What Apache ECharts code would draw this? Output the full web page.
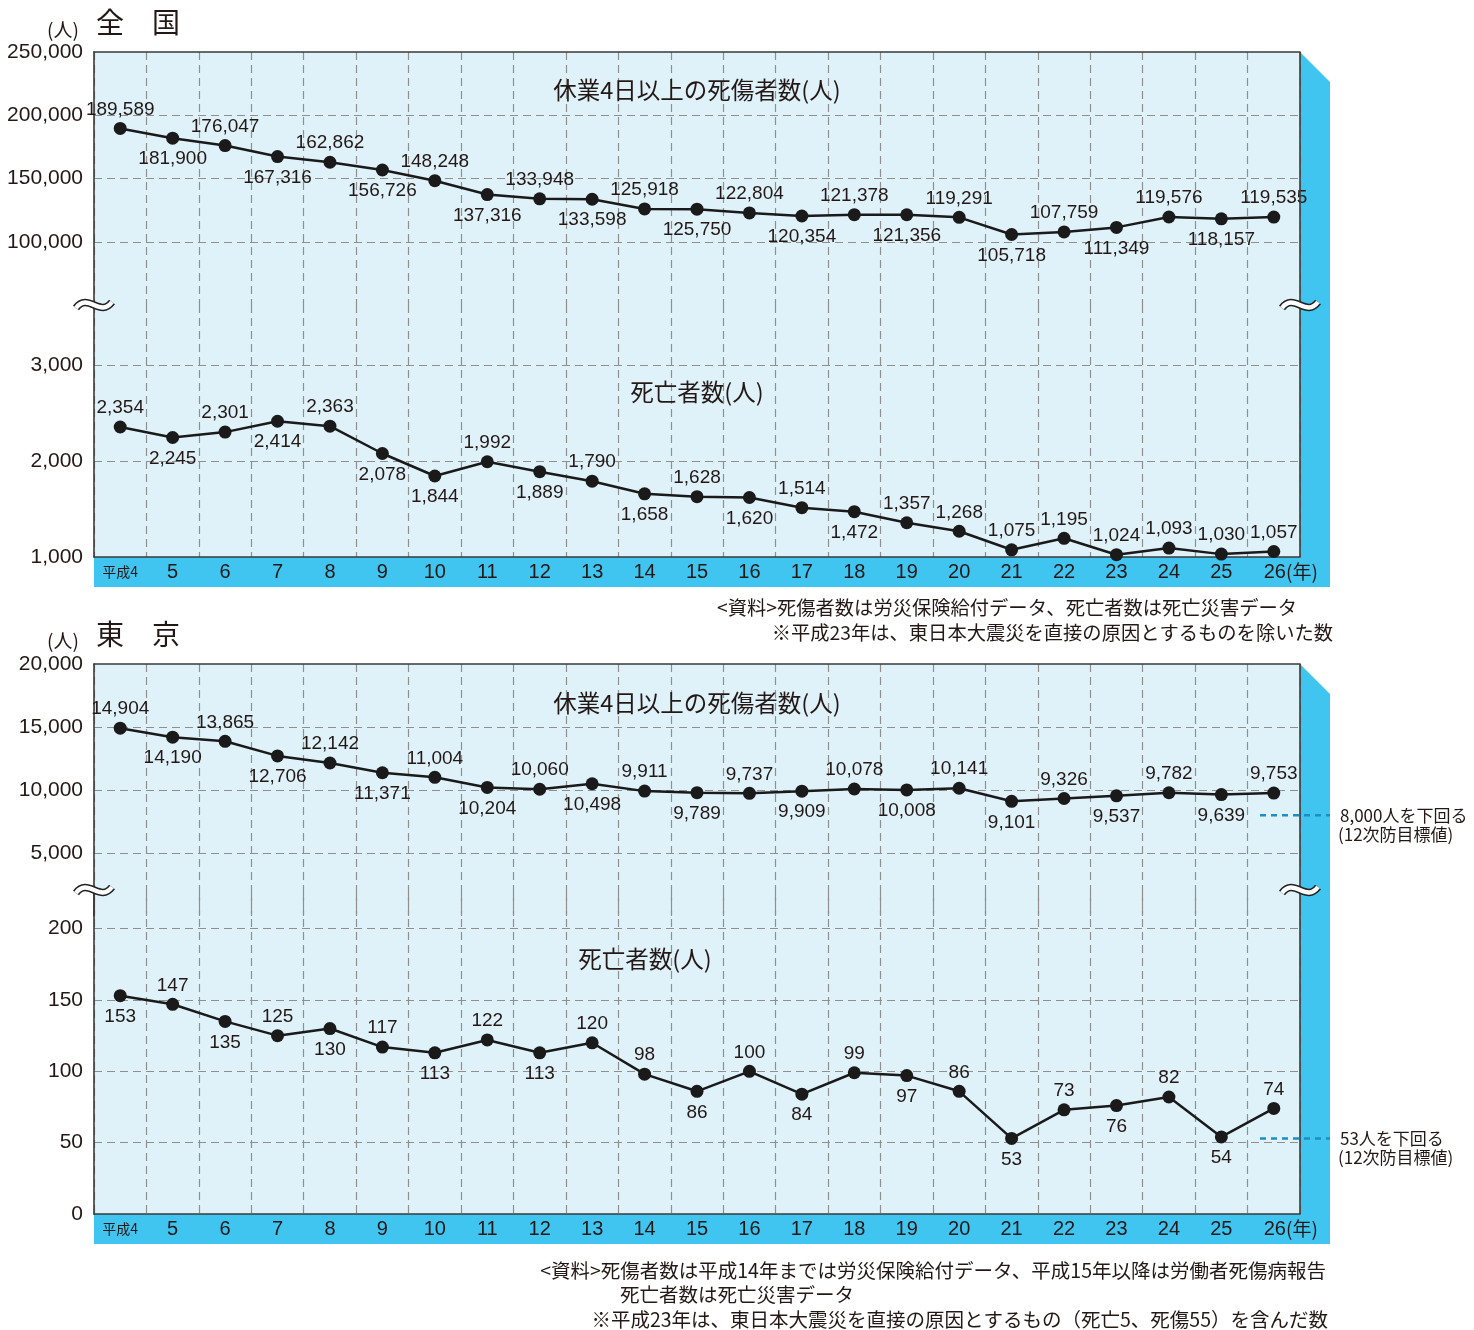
<!DOCTYPE html>
<html><head><meta charset="utf-8">
<script src="https://cdn.jsdelivr.net/npm/echarts@6/dist/echarts.min.js"></script>
<style>html,body{margin:0;padding:0;background:#fff}#c{width:1474px;height:1330px}</style>
</head><body><div id="c"></div>
<script>
// ---------- data ----------
const years = ['平成4','5','6','7','8','9','10','11','12','13','14','15','16','17','18','19','20','21','22','23','24','25','26'];
const nationalInjuries = [189589,181900,176047,167316,162862,156726,148248,137316,133948,133598,125918,125750,122804,120354,121378,121356,119291,105718,107759,111349,119576,118157,119535];
const nationalDeaths = [2354,2245,2301,2414,2363,2078,1844,1992,1889,1790,1658,1628,1620,1514,1472,1357,1268,1075,1195,1024,1093,1030,1057];
const tokyoInjuries = [14904,14190,13865,12706,12142,11371,11004,10204,10060,10498,9911,9789,9737,9909,10078,10008,10141,9101,9326,9537,9782,9639,9753];
const tokyoDeaths = [153,147,135,125,130,117,113,122,113,120,98,86,100,84,99,97,86,53,73,76,82,54,74];
const nationalInjuryTicks = [100000,150000,200000,250000];
const nationalDeathTicks = [1000,2000,3000];
const tokyoInjuryTicks = [5000,10000,15000,20000];
const tokyoDeathTicks = [0,50,100,150,200];
const tokyoInjuryTarget = 8000;
const tokyoDeathTarget = 53;

// label sides (style): t = above, b = below
const nationalInjurySide = 'tbtbtbtbtbtbtbtbtbtbtbt';
const nationalDeathSide  = 'tbtbtbbtbtbtbtbtttttttt';
const tokyoInjurySide    = 'tbtbtbtbtbtbtbtbtbtbtbt';
const tokyoDeathSide     = 'btbtbtbtbttbtbtbtbtbtbt';

// ---------- style ----------
const NUM_FONT = "'Liberation Sans', Arial, 'Noto Sans CJK JP', sans-serif";
const JP_FONT = "'Noto Sans CJK JP', sans-serif";
const TXT = '#231815';
const BG = '#dff2fa';
const BAND = '#40c4f0';
const GRIDC = '#8f8f8f';
const AXC = '#3a3a3a';
const L = 94, R = 1300;

const fmt = v => String(v).replace(/\B(?=(\d{3})+(?!\d))/g, ',');

const chart = echarts.init(document.getElementById('c'), null, {renderer: 'canvas'});

const gridDefs = [
  {top: 52, height: 253},
  {top: 305, height: 252},
  {top: 664, height: 252},
  {top: 893, height: 321}
].map(g => Object.assign({left: L, width: R - L, show: true, backgroundColor: BG, borderWidth: 0}, g));

const splitStyle = {color: GRIDC, width: 1.2, type: [8, 5]};
const axisLineStyle = {color: AXC, width: 1.6};

const xLabel = {
  show: true, interval: 0, margin: 3,
  formatter: (v, i) => i === 0 ? '{s|' + v + '}' : (i === years.length - 1 ? '{p| }{n|' + v + '}{u|(年)}' : '{n|' + v + '}'),
  rich: {
    s: {fontSize: 14, fontFamily: JP_FONT, color: TXT, lineHeight: 24, verticalAlign: 'middle'},
    n: {fontSize: 20, fontFamily: NUM_FONT, color: TXT, lineHeight: 24, verticalAlign: 'middle'},
    u: {fontSize: 19, fontFamily: JP_FONT, color: TXT, lineHeight: 24, verticalAlign: 'middle'},
    p: {width: 34, lineHeight: 24, fontSize: 10}
  }
};

function xAxisDef(gi, pos, showLabel) {
  return {
    type: 'category', data: years, gridIndex: gi, position: pos, boundaryGap: true,
    axisTick: {show: false},
    axisLine: {show: true, onZero: false, lineStyle: axisLineStyle},
    axisLabel: showLabel ? xLabel : {show: false},
    splitLine: {show: true, lineStyle: splitStyle}
  };
}
function yAxisDef(gi, min, max, interval, ticks) {
  return {
    type: 'value', gridIndex: gi, min: min, max: max, interval: interval,
    axisLine: {show: true, onZero: false, lineStyle: axisLineStyle},
    axisTick: {show: false},
    axisLabel: {show: true, margin: 11, fontSize: 21, color: TXT, fontFamily: NUM_FONT,
      formatter: v => ticks.indexOf(v) >= 0 ? fmt(v) : ''},
    splitLine: {show: true, showMinLine: false, showMaxLine: false, lineStyle: splitStyle}
  };
}
function lineSeries(values, sides, idx) {
  return {
    type: 'line', xAxisIndex: idx, yAxisIndex: idx,
    data: values.map((v, i) => ({value: v, label: sides[i] === 't' ? {position: 'top', distance: 3} : {position: 'bottom', distance: 5}})),
    symbol: 'circle', symbolSize: 13,
    itemStyle: {color: '#1a1a1a'},
    lineStyle: {color: '#1a1a1a', width: 2.5},
    label: {show: true, fontSize: 19, fontFamily: NUM_FONT, color: TXT, formatter: p => fmt(p.value)},
    emphasis: {disabled: true},
    animation: false, z: 3
  };
}

function txt(text, x, y, size, align, font) {
  return {
    type: 'text', x: x, y: y, z: 20, silent: true,
    style: {text: text, font: size + 'px ' + (font || JP_FONT), fill: TXT,
      textAlign: align || 'left', align: align || 'left', textVerticalAlign: 'middle', verticalAlign: 'middle'}
  };
}
function wave(x, y) {
  const sh = {x1: -18, y1: 3, cpx1: -6, cpy1: -13, cpx2: 6, cpy2: 13, x2: 18, y2: -3};
  return [
    {type: 'bezierCurve', x: x, y: y, z: 30, silent: true, shape: sh, style: {stroke: '#222', lineWidth: 7.5, fill: null, lineCap: 'butt'}},
    {type: 'bezierCurve', x: x, y: y, z: 31, silent: true, shape: sh, style: {stroke: '#fff', lineWidth: 4.5, fill: null, lineCap: 'butt'}}
  ];
}
function panelDecor(top, bottom) {
  return [
    {type: 'rect', z: -1, silent: true, shape: {x: L, y: bottom, width: 1330 - L, height: 30}, style: {fill: BAND}},
    {type: 'polygon', z: -1, silent: true, shape: {points: [[R, top], [1330, top + 30], [1330, bottom + 30], [R, bottom + 30]]}, style: {fill: BAND}},
    {type: 'line', z: 15, silent: true, shape: {x1: R, y1: top, x2: R, y2: bottom}, style: {stroke: AXC, lineWidth: 1.6}}
  ];
}

const elements = [].concat(
  panelDecor(52, 557),
  panelDecor(664, 1214),
  wave(L, 305), wave(R, 305), wave(L, 890), wave(R, 890),
  [
    txt('(人)', 63, 30, 19, 'center'),
    txt('全　国', 96, 22, 28, 'left'),
    txt('(人)', 63, 641, 19, 'center'),
    txt('東　京', 96, 634, 28, 'left'),
    txt('休業4日以上の死傷者数(人)', 697, 90, 23.5, 'center'),
    txt('死亡者数(人)', 697, 392, 23.5, 'center'),
    txt('休業4日以上の死傷者数(人)', 697, 703, 23.5, 'center'),
    txt('死亡者数(人)', 645, 959, 23.5, 'center'),
    txt('<資料>死傷者数は労災保険給付データ、死亡者数は死亡災害データ', 1297, 608, 19.3, 'right'),
    txt('※平成23年は、東日本大震災を直接の原因とするものを除いた数', 1333, 633, 19.3, 'right'),
    txt('<資料>死傷者数は平成14年までは労災保険給付データ、平成15年以降は労働者死傷病報告', 1326, 1271, 19.5, 'right'),
    txt('死亡者数は死亡災害データ', 620, 1295, 19.5, 'left'),
    txt('※平成23年は、東日本大震災を直接の原因とするもの（死亡5、死傷55）を含んだ数', 1328, 1320, 19.5, 'right'),
    txt(fmt(tokyoInjuryTarget) + '人を下回る', 1340, 816, 17, 'left'),
    txt('(12次防目標値)', 1338, 835, 17, 'left'),
    txt(tokyoDeathTarget + '人を下回る', 1340, 1139, 17, 'left'),
    txt('(12次防目標値)', 1338, 1158, 17, 'left')
  ]
);

chart.setOption({
  animation: false,
  backgroundColor: '#fff',
  grid: gridDefs,
  xAxis: [xAxisDef(0, 'top', false), xAxisDef(1, 'bottom', true), xAxisDef(2, 'top', false), xAxisDef(3, 'bottom', true)],
  yAxis: [
    yAxisDef(0, 50000, 250000, 50000, nationalInjuryTicks),
    yAxisDef(1, 1000, 3625, 1000, nationalDeathTicks),
    yAxisDef(2, 0, 20000, 5000, tokyoInjuryTicks),
    yAxisDef(3, 0, 225, 50, tokyoDeathTicks)
  ],
  series: [
    lineSeries(nationalInjuries, nationalInjurySide, 0),
    lineSeries(nationalDeaths, nationalDeathSide, 1),
    lineSeries(tokyoInjuries, tokyoInjurySide, 2),
    lineSeries(tokyoDeaths, tokyoDeathSide, 3)
  ],
  graphic: {elements: elements}
});

// target lines from the library's scale
const yInj = chart.convertToPixel({yAxisIndex: 2}, tokyoInjuryTarget);
const yDth = chart.convertToPixel({yAxisIndex: 3}, tokyoDeathTarget);
const targetStyle = {stroke: '#1d8dc2', lineWidth: 2.5, lineDash: [6, 5]};
chart.setOption({graphic: {elements: elements.concat([
  {type: 'line', z: 16, silent: true, shape: {x1: 1260, y1: yInj, x2: 1330, y2: yInj}, style: targetStyle},
  {type: 'line', z: 16, silent: true, shape: {x1: 1260, y1: yDth, x2: 1330, y2: yDth}, style: targetStyle}
])}});
</script>
</body></html>
